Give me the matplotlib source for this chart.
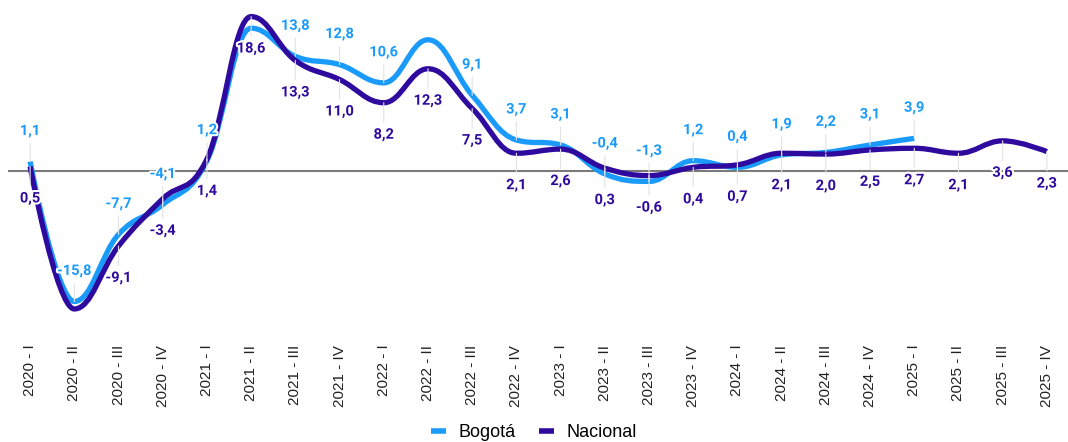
import numpy as np
import matplotlib.pyplot as plt
from matplotlib.path import Path
from matplotlib.patches import PathPatch
from matplotlib.lines import Line2D
import matplotlib.patheffects as pe

# Trimestres
trimestres = ['2020 - I', '2020 - II', '2020 - III', '2020 - IV',
              '2021 - I', '2021 - II', '2021 - III', '2021 - IV',
              '2022 - I', '2022 - II', '2022 - III', '2022 - IV',
              '2023 - I', '2023 - II', '2023 - III', '2023 - IV',
              '2024 - I', '2024 - II', '2024 - III', '2024 - IV',
              '2025 - I', '2025 - II', '2025 - III', '2025 - IV']

bogota = [1.1, -15.8, -7.7, -4.1, 1.2, 17.2, 13.8, 12.8, 10.6, 15.8, 9.1, 3.7,
          3.1, -0.4, -1.3, 1.2, 0.4, 1.9, 2.2, 3.1, 3.9]
nacional = [0.5, -16.7, -9.1, -3.4, 1.4, 18.6, 13.3, 11.0, 8.2, 12.3, 7.5, 2.1,
            2.6, 0.3, -0.6, 0.4, 0.7, 2.1, 2.0, 2.5, 2.7, 2.1, 3.6, 2.3]

# etiquetas ocultas (se superponen en el original)
ocultas_bogota = [5, 9]
ocultas_nacional = [1]

cor_bogota = '#1A9BFC'
cor_nacional = '#2E0A9E'


def spline_path(xs, ys, smoothing=1.5):
    # curva suave estilo "spline" que pasa por todos los puntos
    n = len(xs)
    denom = smoothing + 1
    left = [(xs[0], ys[0])] * n
    right = [(xs[0], ys[0])] * n
    for i in range(n):
        x, y = xs[i], ys[i]
        if i == 0 or i == n - 1:
            left[i] = (x, y)
            right[i] = (x, y)
            continue
        lx, ly = xs[i - 1], ys[i - 1]
        nx, ny = xs[i + 1], ys[i + 1]
        lcx = (smoothing * x + lx) / denom
        lcy = (smoothing * y + ly) / denom
        rcx = (smoothing * x + nx) / denom
        rcy = (smoothing * y + ny) / denom
        corr = (rcy - lcy) * (rcx - x) / (rcx - lcx) + y - rcy
        lcy += corr
        rcy += corr
        if lcy > ly and lcy > y:
            lcy = max(ly, y)
            rcy = 2 * y - lcy
        elif lcy < ly and lcy < y:
            lcy = min(ly, y)
            rcy = 2 * y - lcy
        if rcy > ny and rcy > y:
            rcy = max(ny, y)
            lcy = 2 * y - rcy
        elif rcy < ny and rcy < y:
            rcy = min(ny, y)
            lcy = 2 * y - rcy
        left[i] = (lcx, lcy)
        right[i] = (rcx, rcy)
    verts = [(xs[0], ys[0])]
    codes = [Path.MOVETO]
    for i in range(1, n):
        verts += [right[i - 1], left[i], (xs[i], ys[i])]
        codes += [Path.CURVE4] * 3
    return Path(verts, codes)


fig = plt.figure(figsize=(10.68, 4.42), dpi=100)
ax = fig.add_axes([8 / 1068, 114 / 442, 1061 / 1068, 323 / 442])

ax.axhline(0, color='#7a7a7a', linewidth=1.5, zorder=1)

for serie, cor in [(bogota, cor_bogota), (nacional, cor_nacional)]:
    xs = list(range(len(serie)))
    p = spline_path(xs, serie)
    ax.add_patch(PathPatch(p, facecolor='none', edgecolor=cor, linewidth=3.8,
                           capstyle='butt', joinstyle='round', zorder=3))

efeito = [pe.withStroke(linewidth=3, foreground='white')]


def rotular(serie, cor, desloc, ocultas):
    for i, v in enumerate(serie):
        if i in ocultas:
            continue
        txt = f'{v:.1f}'.replace('.', ',')
        ax.annotate(txt, xy=(i, v), xytext=(0, desloc), textcoords='offset points',
                    ha='center', va='center', fontsize=10.5, fontweight='bold',
                    fontfamily='Roboto', color=cor, path_effects=efeito, zorder=5,
                    arrowprops=dict(arrowstyle='-', color='#e3e3e3', lw=0.8,
                                    shrinkA=2, shrinkB=0))


rotular(bogota, cor_bogota, 22, ocultas_bogota)
rotular(nacional, cor_nacional, -23, ocultas_nacional)

ax.set_xlim(-0.5, len(trimestres) - 0.5)
ax.set_ylim(-19.0, 20.0)
ax.set_xticks(range(len(trimestres)))
ax.set_xticklabels(trimestres, rotation=90, fontsize=11, color='#222222',
                   fontfamily='Liberation Sans')
ax.tick_params(axis='x', length=0, pad=12)
ax.set_yticks([])
for s in ax.spines.values():
    s.set_visible(False)

handles = [Line2D([0], [0], color=cor_bogota, lw=4, solid_capstyle='butt'),
           Line2D([0], [0], color=cor_nacional, lw=4, solid_capstyle='butt')]
fig.legend(handles, ['Bogotá', 'Nacional'], loc='lower center', ncol=2,
           frameon=False, bbox_to_anchor=(0.5, -0.035), handlelength=0.8,
           columnspacing=1.3, handletextpad=0.7,
           prop={'family': 'Liberation Sans', 'size': 13})

plt.savefig('out.png', dpi=100)
